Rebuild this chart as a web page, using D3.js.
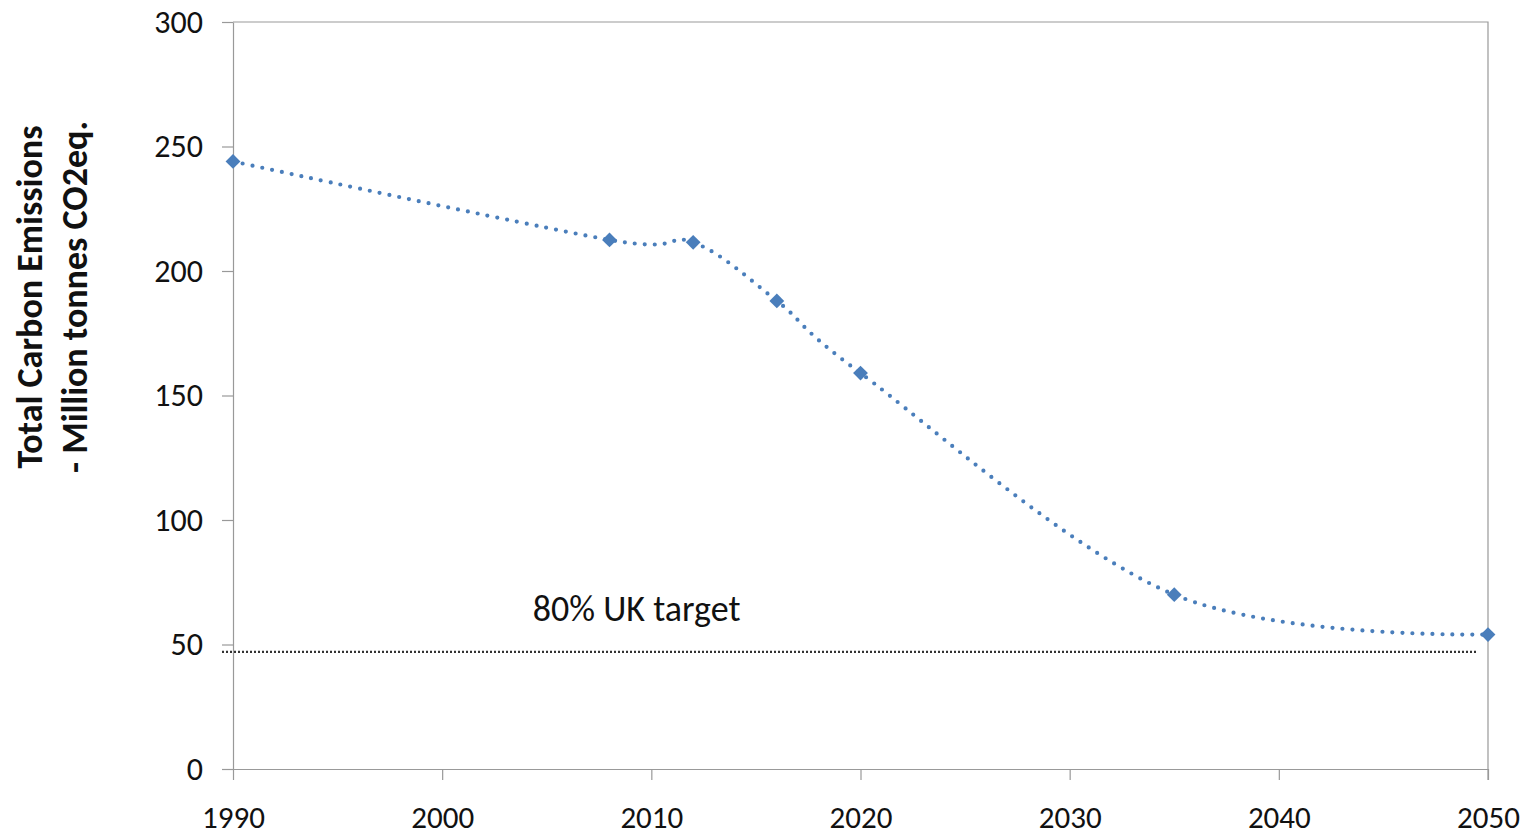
<!DOCTYPE html>
<html lang="en">
<head>
    <meta charset="UTF-8">
    <title>Total Carbon Emissions</title>
    <script src="https://cdn.jsdelivr.net/npm/d3@7"></script>
    <style>
        body { margin: 0; background: #fff; }
    </style>
</head>
<body>

<script>

    const width = 1529;
    const height = 837;

    // data
    const years = [1990, 2008, 2012, 2016, 2020, 2035, 2050];
    const emissions = [244, 212.5, 211.5, 188, 159, 70, 54];
    const target = 47;
    const target_label = "80% UK target";
    const y_ticks = [0, 50, 100, 150, 200, 250, 300];
    const x_ticks = [1990, 2000, 2010, 2020, 2030, 2040, 2050];

    const m_left = 233, m_right = 1488, m_top = 22, m_bottom = 769;
    const font = "Carlito, 'Open Sans', 'Liberation Sans', sans-serif";

    const svg = d3.select("body").append("svg").attr("width", width).attr("height", height);

    let x = d3.scaleLinear().domain([1990, 2050]).range([m_left, m_right]);
    let y = d3.scaleLinear().domain([0, 300]).range([m_bottom, m_top]);

    // plot frame (top and right)
    svg.append("path")
        .attr("d", `M${m_left},${m_top}H${m_right}V${m_bottom + 11}`)
        .attr("fill", "none")
        .attr("stroke", "#999")
        .attr("stroke-width", 1.2);

    const yAxis = svg.append("g")
        .attr("transform", `translate(${m_left},0)`)
        .call(d3.axisLeft(y).tickValues(y_ticks).tickSize(11).tickSizeOuter(0).tickPadding(19));

    const xAxis = svg.append("g")
        .attr("transform", `translate(0,${m_bottom})`)
        .call(d3.axisBottom(x).tickValues(x_ticks).tickFormat(d3.format("d")).tickSize(11).tickSizeOuter(0).tickPadding(26));

    for (const ax of [xAxis, yAxis]) {
        ax.select(".domain").attr("stroke", "#999").attr("stroke-width", 1.2);
        ax.selectAll(".tick line").attr("stroke", "#999").attr("stroke-width", 1.2);
        ax.selectAll("text")
            .attr("fill", "#111")
            .style("font-family", font)
            .style("font-size", "32px");
    }
    xAxis.selectAll("text").style("font-size", "31px");

    // target line
    svg.append("line")
        .attr("x1", m_left - 11)
        .attr("x2", x(2049.5))
        .attr("y1", y(target))
        .attr("y2", y(target))
        .attr("stroke", "#333")
        .attr("stroke-width", 2.2)
        .attr("stroke-dasharray", "2 2");

    svg.append("text")
        .attr("x", x(2009.3))
        .attr("y", y(target) - 31)
        .attr("text-anchor", "middle")
        .style("font-family", font)
        .style("font-size", "36px")
        .attr("fill", "#111")
        .text(target_label);

    const points = years.map((d, i) => [d, emissions[i]]);

    let line = d3.line()
        .x(d => x(d[0]))
        .y(d => y(d[1]))
        .curve(d3.curveCatmullRom.alpha(0));

    svg.append("path")
        .datum(points)
        .attr("d", line)
        .attr("fill", "none")
        .attr("stroke", "#4a7ebb")
        .attr("stroke-width", 4.2)
        .attr("stroke-linecap", "round")
        .attr("stroke-dasharray", "0 10");

    svg.append("g")
        .selectAll("path")
        .data(points)
        .join("path")
        .attr("transform", d => `translate(${x(d[0])},${y(d[1])})`)
        .attr("d", d3.symbol(d3.symbolDiamond2, 140))
        .attr("fill", "#4a7ebb");

    // y axis title, two lines
    const title = svg.append("text")
        .attr("transform", `translate(42,297) rotate(-90)`)
        .attr("text-anchor", "middle")
        .style("font-family", font)
        .style("font-size", "36px")
        .style("font-weight", "bold")
        .attr("fill", "#111");
    title.append("tspan").attr("x", 0).attr("dy", 0).text("Total Carbon Emissions");
    title.append("tspan").attr("x", 0).attr("dy", 45).text("- Million tonnes CO2eq.");

</script>

</body>
</html>
